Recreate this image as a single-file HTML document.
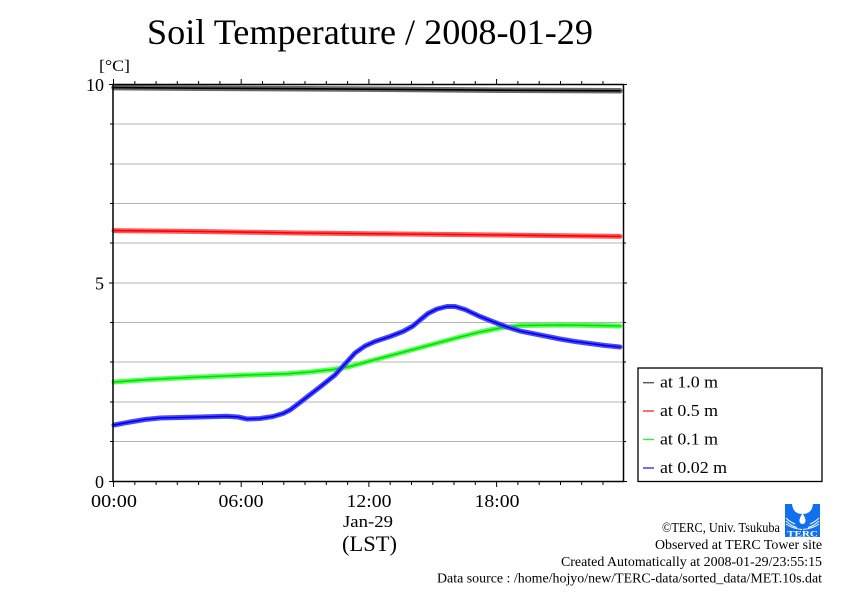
<!DOCTYPE html>
<html>
<head>
<meta charset="utf-8">
<style>
html,body{margin:0;padding:0;background:#fff;}
svg{display:block;}
text{font-family:"Liberation Serif","DejaVu Serif",serif;fill:#000;}
</style>
</head>
<body>
<svg width="842" height="595" viewBox="0 0 842 595" xmlns="http://www.w3.org/2000/svg">
<rect width="842" height="595" fill="#fff"/>
<!-- Title -->
<text x="147" y="44" font-size="36" textLength="446" lengthAdjust="spacingAndGlyphs">Soil Temperature / 2008-01-29</text>
<text x="99" y="71" font-size="16" textLength="31" lengthAdjust="spacingAndGlyphs">[°C]</text>

<!-- gridlines -->
<g stroke="#b4b4b4" stroke-width="1">
<line x1="113" y1="124" x2="623" y2="124"/>
<line x1="113" y1="164" x2="623" y2="164"/>
<line x1="113" y1="203.5" x2="623" y2="203.5"/>
<line x1="113" y1="243" x2="623" y2="243"/>
<line x1="113" y1="283" x2="623" y2="283"/>
<line x1="113" y1="322.5" x2="623" y2="322.5"/>
<line x1="113" y1="362" x2="623" y2="362"/>
<line x1="113" y1="402" x2="623" y2="402"/>
<line x1="113" y1="441.5" x2="623" y2="441.5"/>
</g>

<!-- y ticks -->
<g stroke="#000" stroke-width="1">
<line x1="109" y1="84.5" x2="113" y2="84.5"/>
<line x1="110" y1="124" x2="113" y2="124"/>
<line x1="110" y1="164" x2="113" y2="164"/>
<line x1="110" y1="203.5" x2="113" y2="203.5"/>
<line x1="110" y1="243" x2="113" y2="243"/>
<line x1="109" y1="283" x2="113" y2="283"/>
<line x1="110" y1="322.5" x2="113" y2="322.5"/>
<line x1="110" y1="362" x2="113" y2="362"/>
<line x1="110" y1="402" x2="113" y2="402"/>
<line x1="110" y1="441.5" x2="113" y2="441.5"/>
<line x1="109" y1="481.5" x2="113" y2="481.5"/>
<line x1="623" y1="84.5" x2="627" y2="84.5"/>
<line x1="623" y1="124" x2="626" y2="124"/>
<line x1="623" y1="164" x2="626" y2="164"/>
<line x1="623" y1="203.5" x2="626" y2="203.5"/>
<line x1="623" y1="243" x2="626" y2="243"/>
<line x1="623" y1="283" x2="627" y2="283"/>
<line x1="623" y1="322.5" x2="626" y2="322.5"/>
<line x1="623" y1="362" x2="626" y2="362"/>
<line x1="623" y1="402" x2="626" y2="402"/>
<line x1="623" y1="441.5" x2="626" y2="441.5"/>
<line x1="623" y1="481.5" x2="627" y2="481.5"/>
</g>

<!-- x ticks (bottom down, top up) -->
<g stroke="#000" stroke-width="1">
<line x1="113.5" y1="481" x2="113.5" y2="487"/><line x1="113.5" y1="85" x2="113.5" y2="79"/>
<line x1="134.8" y1="481" x2="134.8" y2="485"/><line x1="134.8" y1="85" x2="134.8" y2="81"/>
<line x1="156.1" y1="481" x2="156.1" y2="485"/><line x1="156.1" y1="85" x2="156.1" y2="81"/>
<line x1="177.3" y1="481" x2="177.3" y2="485"/><line x1="177.3" y1="85" x2="177.3" y2="81"/>
<line x1="198.6" y1="481" x2="198.6" y2="485"/><line x1="198.6" y1="85" x2="198.6" y2="81"/>
<line x1="219.9" y1="481" x2="219.9" y2="485"/><line x1="219.9" y1="85" x2="219.9" y2="81"/>
<line x1="241.2" y1="481" x2="241.2" y2="487"/><line x1="241.2" y1="85" x2="241.2" y2="79"/>
<line x1="262.5" y1="481" x2="262.5" y2="485"/><line x1="262.5" y1="85" x2="262.5" y2="81"/>
<line x1="283.8" y1="481" x2="283.8" y2="485"/><line x1="283.8" y1="85" x2="283.8" y2="81"/>
<line x1="305" y1="481" x2="305" y2="485"/><line x1="305" y1="85" x2="305" y2="81"/>
<line x1="326.3" y1="481" x2="326.3" y2="485"/><line x1="326.3" y1="85" x2="326.3" y2="81"/>
<line x1="347.6" y1="481" x2="347.6" y2="485"/><line x1="347.6" y1="85" x2="347.6" y2="81"/>
<line x1="368.9" y1="481" x2="368.9" y2="487"/><line x1="368.9" y1="85" x2="368.9" y2="79"/>
<line x1="390.2" y1="481" x2="390.2" y2="485"/><line x1="390.2" y1="85" x2="390.2" y2="81"/>
<line x1="411.5" y1="481" x2="411.5" y2="485"/><line x1="411.5" y1="85" x2="411.5" y2="81"/>
<line x1="432.8" y1="481" x2="432.8" y2="485"/><line x1="432.8" y1="85" x2="432.8" y2="81"/>
<line x1="454" y1="481" x2="454" y2="485"/><line x1="454" y1="85" x2="454" y2="81"/>
<line x1="475.3" y1="481" x2="475.3" y2="485"/><line x1="475.3" y1="85" x2="475.3" y2="81"/>
<line x1="496.6" y1="481" x2="496.6" y2="487"/><line x1="496.6" y1="85" x2="496.6" y2="79"/>
<line x1="517.9" y1="481" x2="517.9" y2="485"/><line x1="517.9" y1="85" x2="517.9" y2="81"/>
<line x1="539.2" y1="481" x2="539.2" y2="485"/><line x1="539.2" y1="85" x2="539.2" y2="81"/>
<line x1="560.5" y1="481" x2="560.5" y2="485"/><line x1="560.5" y1="85" x2="560.5" y2="81"/>
<line x1="581.7" y1="481" x2="581.7" y2="485"/><line x1="581.7" y1="85" x2="581.7" y2="81"/>
<line x1="603" y1="481" x2="603" y2="485"/><line x1="603" y1="85" x2="603" y2="81"/>
</g>

<!-- data series -->
<g fill="none" stroke-linecap="round" stroke-linejoin="round">
<polyline stroke="#6a6a6a" stroke-width="5.5" points="114,87.6 200,88.2 300,88.7 400,89.4 500,90.2 620,90.8"/>
<polyline stroke="#000" stroke-width="1.6" points="114,87.6 200,88.2 300,88.7 400,89.4 500,90.2 620,90.8"/>
<polyline stroke="#ff5a5a" stroke-width="5" points="114,230.6 200,231.5 300,233 400,234 500,235 620,236.4"/>
<polyline stroke="#ff0000" stroke-width="1.6" points="114,230.6 200,231.5 300,233 400,234 500,235 620,236.4"/>
<polyline stroke="#52ff52" stroke-width="5" points="114,382 150,379.5 200,377 250,375 287,373.8 310,372 333,369.5 350,366.5 370,361 400,353 430,345 460,337 480,332 500,328 520,325.5 560,325 600,325.5 620,326"/>
<polyline stroke="#00e000" stroke-width="1.6" points="114,382 150,379.5 200,377 250,375 287,373.8 310,372 333,369.5 350,366.5 370,361 400,353 430,345 460,337 480,332 500,328 520,325.5 560,325 600,325.5 620,326"/>
<polyline stroke="#4848ff" stroke-width="5" points="114,425 130,422 145,419.5 160,418 180,417.5 200,417 227,416.3 238,417 247,419 260,418.5 273,416.5 283,413.5 290,410 298,404 307,397 320,387 335,375 345,364 355,353 365,346 375,341.5 390,336.5 403,331.5 413,326 420,320 428,313.5 437,309 447,306.5 455,306.5 465,309.5 480,316.5 495,322.5 507,327 520,331 540,335 560,339 575,341.5 590,343.5 605,345.5 620,347"/>
<polyline stroke="#0000e8" stroke-width="1.6" points="114,425 130,422 145,419.5 160,418 180,417.5 200,417 227,416.3 238,417 247,419 260,418.5 273,416.5 283,413.5 290,410 298,404 307,397 320,387 335,375 345,364 355,353 365,346 375,341.5 390,336.5 403,331.5 413,326 420,320 428,313.5 437,309 447,306.5 455,306.5 465,309.5 480,316.5 495,322.5 507,327 520,331 540,335 560,339 575,341.5 590,343.5 605,345.5 620,347"/>
</g>

<!-- frame -->
<rect x="113" y="84.5" width="510.5" height="397" fill="none" stroke="#000" stroke-width="1.5"/>

<!-- axis labels -->
<g font-size="18" text-anchor="end">
<text x="104" y="91" textLength="18" lengthAdjust="spacingAndGlyphs">10</text>
<text x="104" y="289.5">5</text>
<text x="104" y="488">0</text>
</g>
<g font-size="18" text-anchor="middle">
<text x="114" y="507" textLength="46" lengthAdjust="spacingAndGlyphs">00:00</text>
<text x="241" y="507" textLength="45" lengthAdjust="spacingAndGlyphs">06:00</text>
<text x="369" y="507" textLength="45" lengthAdjust="spacingAndGlyphs">12:00</text>
<text x="497" y="507" textLength="45" lengthAdjust="spacingAndGlyphs">18:00</text>
</g>
<text x="368" y="527" font-size="17" text-anchor="middle" textLength="50" lengthAdjust="spacingAndGlyphs">Jan-29</text>
<text x="369.5" y="551" font-size="22" text-anchor="middle" textLength="55" lengthAdjust="spacingAndGlyphs">(LST)</text>

<!-- legend -->
<rect x="638" y="368" width="184" height="113.5" fill="#fff" stroke="#000" stroke-width="1.3"/>
<g stroke-width="1.4">
<line x1="643" y1="382.7" x2="654" y2="382.7" stroke="#555"/>
<line x1="643" y1="411" x2="654" y2="411" stroke="#ff3030"/>
<line x1="643" y1="439.5" x2="654" y2="439.5" stroke="#30ee30"/>
<line x1="643" y1="468" x2="654" y2="468" stroke="#3030ff"/>
</g>
<g font-size="16.5">
<text x="660" y="387.5" textLength="58" lengthAdjust="spacingAndGlyphs">at 1.0 m</text>
<text x="660" y="416" textLength="58" lengthAdjust="spacingAndGlyphs">at 0.5 m</text>
<text x="660" y="444.5" textLength="58" lengthAdjust="spacingAndGlyphs">at 0.1 m</text>
<text x="660" y="473" textLength="67" lengthAdjust="spacingAndGlyphs">at 0.02 m</text>
</g>

<!-- logo -->
<g>
<rect x="785" y="504" width="35" height="33" fill="#1170ee"/>
<path d="M792,504 Q793,514 802.5,514 Q812,514 813,504 Z" fill="#fff"/>
<path d="M802.5,513 Q799,519 799.5,521 Q800,524 802.5,524 Q805,524 805.5,521 Q806,519 802.5,513 Z" fill="#fff"/>
<path d="M786,518 Q790,522 795,524 M786,521 Q791,526 797,527.5 M786,524 Q792,528.5 802,529.5 M819,518 Q815,522 810,524 M819,521 Q814,526 808,527.5 M819,524 Q813,528.5 803,529.5" stroke="#fff" stroke-width="1" fill="none"/>
<text x="802.5" y="536.5" font-family="Liberation Sans, sans-serif" font-size="8" font-weight="bold" text-anchor="middle" style="fill:#fff" textLength="31" lengthAdjust="spacingAndGlyphs">TERC</text>
</g>

<!-- footer -->
<g font-size="13.5" text-anchor="end">
<text x="780" y="532" textLength="118" lengthAdjust="spacingAndGlyphs">©TERC, Univ. Tsukuba</text>
<text x="822" y="549" textLength="167" lengthAdjust="spacingAndGlyphs">Observed at TERC Tower site</text>
<text x="822" y="566" textLength="261" lengthAdjust="spacingAndGlyphs">Created Automatically at 2008-01-29/23:55:15</text>
<text x="822" y="582.5" textLength="385" lengthAdjust="spacingAndGlyphs">Data source : /home/hojyo/new/TERC-data/sorted_data/MET.10s.dat</text>
</g>
</svg>
</body>
</html>
